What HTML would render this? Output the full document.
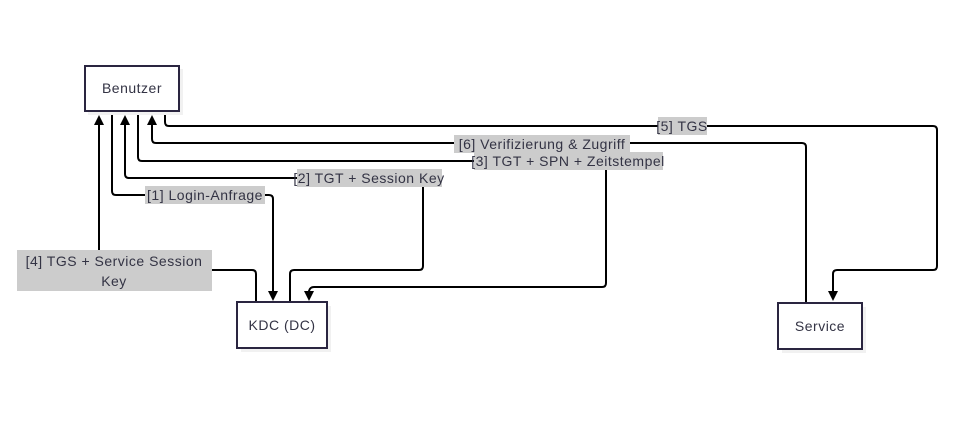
<!DOCTYPE html>
<html><head><meta charset="utf-8"><style>
body{margin:0;background:#fff;width:980px;height:426px;overflow:hidden}
svg{display:block}
text{font-family:"Liberation Sans",sans-serif;font-size:14px;letter-spacing:0.5px;fill:#333344}
</style></head><body>
<svg width="980" height="426" viewBox="0 0 980 426" xmlns="http://www.w3.org/2000/svg">
<defs><marker id="a" markerWidth="10" markerHeight="10" refX="5" refY="5" orient="auto" markerUnits="userSpaceOnUse"><path d="M0,0 L10,5 L0,10 z" fill="#000"/></marker></defs>
<g fill="none" stroke="#000" stroke-width="2">
<path d="M112,111 V191 q0,4 4,4 H269 q4,0 4,4 V296" marker-end="url(#a)"/>
<path d="M290,302 V274 q0,-4 4,-4 H419 q4,0 4,-4 V182 q0,-4 -4,-4 H129 q-4,0 -4,-4 V120" marker-end="url(#a)"/>
<path d="M138,111 V157 q0,4 4,4 H602 q4,0 4,4 V283 q0,4 -4,4 H314 q-4,0 -5,4 V296" marker-end="url(#a)"/>
<path d="M256,302 V274 q0,-4 -4,-4 H99 V120" marker-end="url(#a)"/>
<path d="M165,111 V122 q0,4 4,4 H933 q4,0 4,4 V266 q0,4 -4,4 H837 q-4,0 -4,4 V296" marker-end="url(#a)"/>
<path d="M806,303 V147 q0,-4 -4,-4 H156 q-4,0 -4,-4 V120" marker-end="url(#a)"/>
</g>
<g fill="#f1f1f1"><rect x="88" y="69" width="95" height="46"/><rect x="241" y="306" width="90" height="46"/><rect x="782" y="307" width="84" height="46"/></g>
<g fill="#fff" stroke="#2a2540" stroke-width="2">
<rect x="85" y="66" width="94" height="45"/>
<rect x="237" y="302" width="90" height="46"/>
<rect x="778" y="303" width="84" height="46"/>
</g>
<text x="132" y="93" text-anchor="middle">Benutzer</text>
<text x="282" y="330" text-anchor="middle">KDC (DC)</text>
<text x="820" y="331" text-anchor="middle">Service</text>
<g fill="#cccccc">
<rect x="145" y="186" width="120" height="18"/>
<rect x="297" y="169" width="145" height="18"/>
<rect x="474" y="152" width="189" height="18"/>
<rect x="454" y="135" width="176" height="18"/>
<rect x="658" y="117" width="49" height="18"/>
<rect x="17" y="250" width="195" height="41"/>
</g>
<text x="205" y="200" text-anchor="middle">[1] Login-Anfrage</text>
<text x="369" y="183" text-anchor="middle">[2] TGT + Session Key</text>
<text x="568" y="166" text-anchor="middle">[3] TGT + SPN + Zeitstempel</text>
<text x="542" y="149" text-anchor="middle">[6] Verifizierung &amp; Zugriff</text>
<text x="682" y="131" text-anchor="middle">[5] TGS</text>
<text x="114" y="266" text-anchor="middle">[4] TGS + Service Session</text>
<text x="114" y="286" text-anchor="middle">Key</text>
</svg>
</body></html>
